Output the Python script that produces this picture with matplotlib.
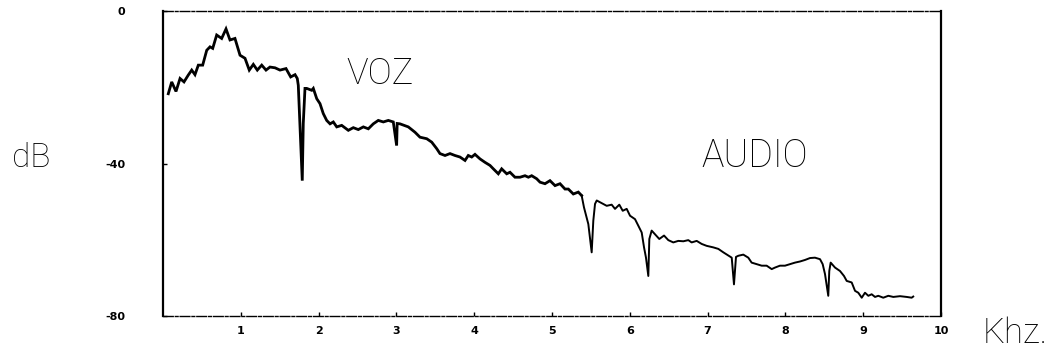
import matplotlib
matplotlib.use("Agg")
import matplotlib.pyplot as plt
from matplotlib import font_manager

# ---- data (kHz, dB) ----
freq_khz = [0.068, 0.112, 0.167, 0.219, 0.27, 0.325, 0.369, 0.411, 0.454, 0.51,
            0.562, 0.604, 0.639, 0.69, 0.754, 0.81, 0.861, 0.925, 0.99, 1.054,
            1.109, 1.161, 1.212, 1.269, 1.324, 1.375, 1.44, 1.504, 1.581, 1.641,
            1.697, 1.726, 1.739, 1.79, 1.803, 1.825, 1.847, 1.911, 1.932, 1.976,
            2.018, 2.06, 2.104, 2.147, 2.189, 2.233, 2.297, 2.382, 2.446, 2.51,
            2.575, 2.639, 2.703, 2.767, 2.832, 2.896, 2.96, 3.003, 3.01, 3.046,
            3.153, 3.239, 3.303, 3.39, 3.454, 3.518, 3.56, 3.625, 3.689, 3.753,
            3.817, 3.882, 3.924, 3.968, 4.01, 4.075, 4.139, 4.203, 4.246, 4.31,
            4.353, 4.418, 4.46, 4.524, 4.589, 4.653, 4.696, 4.739, 4.803, 4.846,
            4.91, 4.974, 5.039, 5.103, 5.167, 5.21, 5.274, 5.338, 5.381, 5.411,
            5.467, 5.51, 5.531, 5.553, 5.575, 5.639, 5.703, 5.767, 5.81, 5.865,
            5.909, 5.96, 6.003, 6.067, 6.109, 6.153, 6.183, 6.208, 6.238, 6.251,
            6.281, 6.379, 6.44, 6.495, 6.559, 6.623, 6.688, 6.752, 6.795, 6.86,
            6.924, 6.988, 7.073, 7.138, 7.202, 7.31, 7.339, 7.365, 7.395, 7.459,
            7.523, 7.566, 7.631, 7.695, 7.759, 7.824, 7.866, 7.93, 7.995, 8.059,
            8.123, 8.188, 8.252, 8.316, 8.38, 8.445, 8.479, 8.509, 8.551, 8.564,
            8.582, 8.638, 8.702, 8.753, 8.788, 8.852, 8.895, 8.937, 8.981, 9.023,
            9.066, 9.109, 9.152, 9.194, 9.258, 9.323, 9.387, 9.473, 9.559, 9.623,
            9.643]
level_db = [-21.7, -18.6, -21.1, -17.7, -18.6, -16.8, -15.5, -16.7, -14.2, -14.2,
            -10.3, -9.4, -9.8, -6.3, -7.2, -4.7, -7.6, -7.2, -11.6, -12.4,
            -15.5, -14.0, -15.5, -14.2, -15.5, -14.7, -14.9, -15.5, -15.1, -17.3,
            -16.7, -17.7, -19.5, -44.5, -29.5, -20.3, -20.3, -20.8, -20.3, -23.0,
            -24.3, -26.9, -28.7, -29.6, -29.1, -30.4, -30.0, -31.3, -30.6, -31.1,
            -30.4, -30.9, -29.6, -28.7, -29.1, -28.7, -29.1, -35.3, -29.5, -29.6,
            -30.4, -31.8, -33.1, -33.5, -34.4, -36.1, -37.4, -37.9, -37.4, -37.9,
            -38.3, -39.2, -37.9, -38.3, -37.6, -38.8, -39.7, -40.5, -41.4, -42.7,
            -41.4, -42.7, -42.3, -43.6, -43.6, -43.2, -43.6, -43.2, -44.0, -44.9,
            -45.3, -44.5, -45.8, -45.3, -46.7, -46.7, -48.0, -47.5, -48.4, -51.5,
            -55.9, -63.3, -55.0, -50.6, -49.7, -50.4, -51.1, -50.8, -51.9, -50.8,
            -52.4, -51.9, -53.7, -54.6, -56.3, -58.1, -62.0, -64.7, -69.5, -59.8,
            -57.6, -59.8, -58.9, -60.1, -60.7, -60.3, -60.4, -60.1, -60.7, -60.3,
            -61.1, -61.6, -62.0, -62.4, -63.3, -64.7, -71.7, -64.5, -64.2, -63.9,
            -64.7, -66.0, -66.4, -66.8, -66.8, -67.7, -67.3, -66.8, -66.8, -66.4,
            -66.0, -65.7, -65.3, -64.8, -64.7, -65.1, -66.4, -69.0, -74.7, -68.2,
            -66.0, -67.3, -68.2, -69.5, -70.8, -71.2, -73.4, -73.9, -75.2, -73.9,
            -74.7, -74.3, -75.0, -74.7, -75.2, -74.7, -75.0, -74.8, -75.0, -75.2,
            -74.9]

x_ticks = [1, 2, 3, 4, 5, 6, 7, 8, 9, 10]
x_tick_labels = ["1", "2", "3", "4", "5", "6", "7", "8", "9", "10"]
y_ticks = [0, -40, -80]
y_tick_labels = ["0", "-40", "-80"]

# ---- font choice for the big light annotations ----
available = {f.name for f in font_manager.fontManager.ttflist}
label_family = "DejaVu Sans"
for cand in ["Roboto", "Open Sans", "Lato", "DejaVu Sans"]:
    if cand in available:
        label_family = cand
        break

fig = plt.figure(figsize=(10.6, 3.57), dpi=100)
ax = fig.add_axes([163 / 1060, 1 - 316 / 357, 778 / 1060, 305 / 357])

split = 5.4
first_x = [x for x in freq_khz if x <= split]
first_y = [y for x, y in zip(freq_khz, level_db) if x <= split]
second_x = [x for x in freq_khz if x >= first_x[-1]]
second_y = [y for x, y in zip(freq_khz, level_db) if x >= first_x[-1]]
ax.plot(first_x, first_y, color="black", lw=2.0, solid_joinstyle="miter")
ax.plot(second_x, second_y, color="black", lw=1.4)

ax.set_xlim(0, 10)
ax.set_ylim(-80, 0)

ax.set_xticks(x_ticks)
ax.set_xticklabels(x_tick_labels, fontsize=8, fontweight="bold")
ax.set_yticks(y_ticks)
ax.set_yticklabels(y_tick_labels, fontsize=8, fontweight="bold")
ax.tick_params(axis="x", direction="in", length=3, width=1, pad=7)
ax.tick_params(axis="y", direction="in", length=3, width=1, pad=27)

for side in ["left", "right"]:
    ax.spines[side].set_linewidth(1.6)
    ax.spines[side].set_color("black")
for side in ["top", "bottom"]:
    ax.spines[side].set_linewidth(1.0)
    ax.spines[side].set_color("black")
    ax.spines[side].set_linestyle((0, (7, 1.5, 2, 1.5)))

txt_kw = dict(family=label_family, fontweight="light", color="black")
ax.text(2.79, -16.5, "VOZ", fontsize=26, ha="center", va="center", **txt_kw)
ax.text(7.6, -38.0, "AUDIO", fontsize=27, ha="center", va="center", **txt_kw)
fig.text(31 / 1060, 1 - 158 / 357, "dB", fontsize=24, ha="center", va="center", **txt_kw)
fig.text(1015 / 1060, 1 - 333 / 357, "Khz.", fontsize=25, ha="center", va="center", **txt_kw)

fig.savefig("out.png", dpi=100, facecolor="white")
